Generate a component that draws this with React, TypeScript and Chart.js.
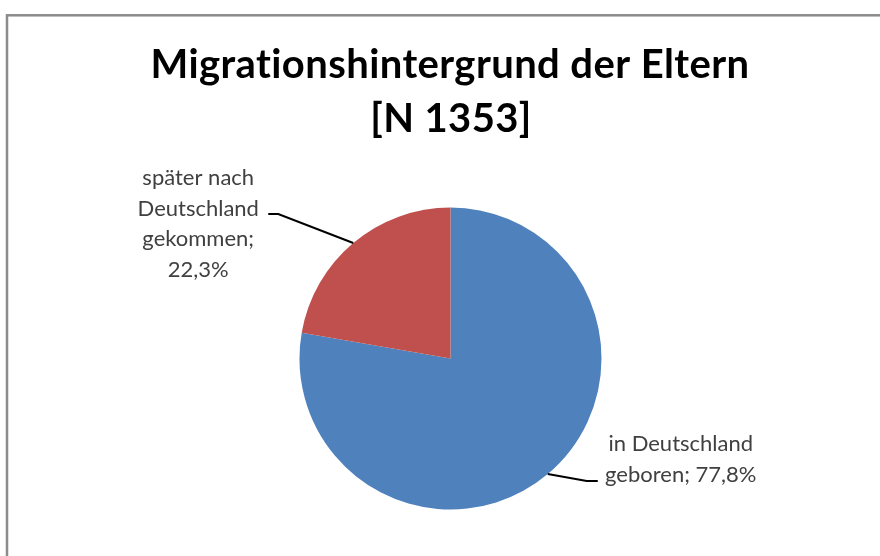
import React, { useEffect, useRef } from "react";
import { Chart, registerables } from "chart.js";

Chart.register(...registerables);

const titleLines = ["Migrationshintergrund der Eltern", "[N 1353]"];
const categories = ["in Deutschland geboren", "später nach Deutschland gekommen"];
const categoryLines = [["in Deutschland", "geboren; "], ["später nach", "Deutschland", "gekommen;", ""]];
const values = [77.8, 22.3];
const colors = ["#4f81bd", "#c0504d"];

// label layout relative to the arc anchor point (mid-angle on outer radius)
const labelLayout = [
  { elbow: [39, 7], lineEnd: 11, textX: 94, baselines: [-30.3, 0.7], align: "center" },
  { elbow: [-75, -29], lineEnd: -10, textX: -80, baselines: [-28.7, 1.8, 32.3, 62.8], align: "center" },
];

const fmt = (v: number) => v.toFixed(1).replace(".", ",") + "%";

const labelPlugin = {
  id: "customLabels",
  beforeDraw(chart: any) {
    const ctx = chart.ctx;
    ctx.save();
    ctx.fillStyle = "#ffffff";
    ctx.fillRect(0, 0, chart.width, chart.height);
    ctx.strokeStyle = "#8c8c8c";
    ctx.lineWidth = 2.5;
    ctx.strokeRect(7, 15.3, chart.width + 50, chart.height + 50);
    ctx.restore();
  },
  afterDraw(chart: any) {
    const ctx = chart.ctx;
    ctx.save();
    // title
    ctx.fillStyle = "#000000";
    ctx.textAlign = "center";
    ctx.textBaseline = "alphabetic";
    ctx.font = "bold 40px Lato";
    try { (ctx as any).letterSpacing = "0.4px"; } catch (e) {}
    ctx.fillText(titleLines[0], 450, 78);
    ctx.fillText(titleLines[1], 451, 132);
    try { (ctx as any).letterSpacing = "0px"; } catch (e) {}

    const meta = chart.getDatasetMeta(0);
    meta.data.forEach((arc: any, i: number) => {
      const p = arc.getProps(["startAngle", "endAngle", "x", "y", "outerRadius"], true);
      const mid = (p.startAngle + p.endAngle) / 2;
      const ax = p.x + Math.cos(mid) * p.outerRadius;
      const ay = p.y + Math.sin(mid) * p.outerRadius;
      const L = labelLayout[i];
      const ex = ax + L.elbow[0];
      const ey = ay + L.elbow[1];
      ctx.strokeStyle = "#000000";
      ctx.lineWidth = 2;
      ctx.beginPath();
      ctx.moveTo(ax, ay);
      ctx.lineTo(ex, ey);
      ctx.lineTo(ex + L.lineEnd, ey);
      ctx.stroke();

      const lines = categoryLines[i].slice();
      lines[lines.length - 1] = lines[lines.length - 1] + fmt(values[i]);
      ctx.fillStyle = "#404040";
      ctx.font = "22px Lato";
      ctx.textAlign = L.align;
      lines.forEach((t: string, k: number) => {
        ctx.fillText(t, ex + L.textX, ey + L.baselines[k]);
      });
    });
    ctx.restore();
  },
};

export default function App() {
  const ref = useRef<HTMLCanvasElement | null>(null);
  useEffect(() => {
    if (!ref.current) return;
    const chart = new Chart(ref.current, {
      type: "pie",
      data: {
        labels: categories,
        datasets: [
          {
            data: values,
            backgroundColor: colors,
            borderWidth: 0,
          },
        ],
      },
      options: {
        animation: false,
        responsive: true,
        maintainAspectRatio: false,
        layout: { padding: { top: 207.5, bottom: 46.5, left: 100, right: 79 } },
        plugins: {
          legend: { display: false },
          tooltip: { enabled: false },
          title: { display: false },
        },
      },
      plugins: [labelPlugin],
    });
    return () => chart.destroy();
  }, []);
  return (
    <div style={{ position: "fixed", left: 0, top: 0, width: 880, height: 556 }}>
      <canvas ref={ref} />
    </div>
  );
}
